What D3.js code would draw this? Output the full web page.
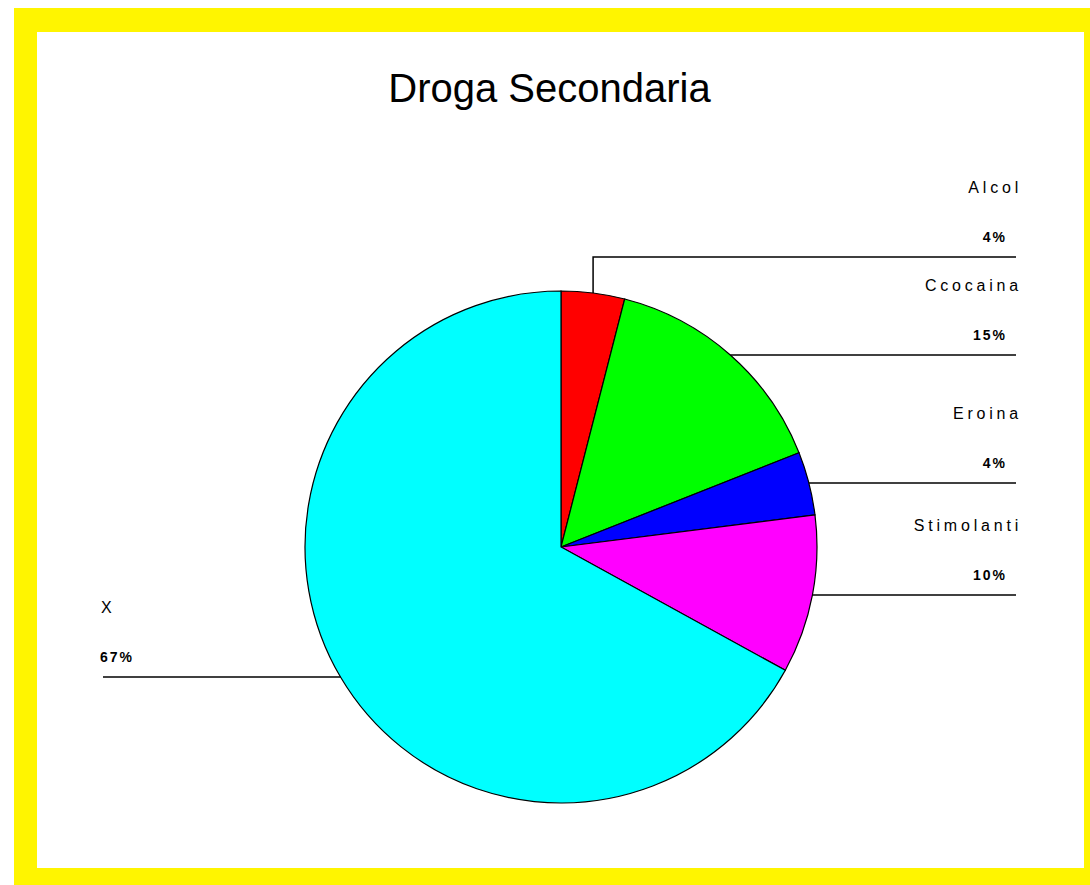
<!DOCTYPE html>
<html>
<head>
<meta charset="utf-8">
<script src="https://cdn.jsdelivr.net/npm/d3@7"></script>
<style>
  html, body { margin: 0; padding: 0; background: #ffffff; }
  svg { display: block; }
</style>
</head>
<body>
<svg id="chart" width="1090" height="885"></svg>
<script>
// ---- data ----
const categories = ["Alcol", "Ccocaina", "Eroina", "Stimolanti", "X"];
const values = [4, 15, 4, 10, 67];
const percentLabels = ["4%", "15%", "4%", "10%", "67%"];
const colors = ["#ff0000", "#00ff00", "#0000ff", "#ff00ff", "#00ffff"];
const title = "Droga Secondaria";

// ---- layout ----
const W = 1090, H = 885;
const cx = 561, cy = 547, R = 256;
const rightLabelX = 1016;   // end of right leader lines
const leftLabelX = 103;     // end of left leader lines
const elbowUp = { "Alcol": 36 }; // leader elbows for crowded labels

const svg = d3.select("#chart");

// frame
svg.append("rect").attr("x", 0).attr("y", 0).attr("width", W).attr("height", H).attr("fill", "#ffffff");
svg.append("rect").attr("x", 14).attr("y", 8).attr("width", W - 14).attr("height", H - 8).attr("fill", "#fff500");
svg.append("rect").attr("x", 37).attr("y", 32).attr("width", 1084 - 37).attr("height", 868 - 32).attr("fill", "#ffffff");

// title
svg.append("text")
  .attr("x", 549.5).attr("y", 102)
  .attr("text-anchor", "middle")
  .attr("font-family", "Liberation Sans, Arial, sans-serif")
  .attr("font-size", 40)
  .attr("fill", "#000")
  .text(title);

// pie
const data = categories.map((c, i) => ({ name: c, value: values[i], pct: percentLabels[i], color: colors[i] }));
const pie = d3.pie().value(d => d.value).sort(null).startAngle(0).endAngle(2 * Math.PI);
const arcs = pie(data);
const arc = d3.arc().innerRadius(0).outerRadius(R);

const g = svg.append("g").attr("transform", `translate(${cx},${cy})`);
g.selectAll("path.slice")
  .data(arcs)
  .join("path")
  .attr("class", "slice")
  .attr("d", arc)
  .attr("fill", d => d.data.color)
  .attr("stroke", "#000")
  .attr("stroke-width", 1.2);

// leader lines and labels
const labelFont = "Liberation Sans, Arial, sans-serif";
arcs.forEach(a => {
  const mid = (a.startAngle + a.endAngle) / 2;
  const ex = cx + R * Math.sin(mid);
  const ey = cy - R * Math.cos(mid);
  const right = Math.sin(mid) >= 0;
  const up = elbowUp[a.data.name] || 0;
  const ly = Math.round(ey - up);
  let pts;
  if (up) {
    pts = [[ex, ey], [ex, ly], [right ? rightLabelX : leftLabelX, ly]];
  } else {
    pts = [[ex, ly], [right ? rightLabelX : leftLabelX, ly]];
  }
  svg.append("path")
    .attr("d", d3.line()(pts))
    .attr("fill", "none")
    .attr("stroke", "#000")
    .attr("stroke-width", 1.5);

  if (right) {
    svg.append("text")
      .attr("x", 1022).attr("y", ly - 64)
      .attr("text-anchor", "end")
      .attr("font-family", labelFont)
      .attr("font-size", 16)
      .attr("letter-spacing", 3.8)
      .attr("fill", "#000")
      .text(a.data.name);
    svg.append("text")
      .attr("x", 1007).attr("y", ly - 15)
      .attr("text-anchor", "end")
      .attr("font-family", labelFont)
      .attr("font-size", 14)
      .attr("font-weight", "bold")
      .attr("letter-spacing", 2)
      .attr("fill", "#000")
      .text(a.data.pct);
  } else {
    svg.append("text")
      .attr("x", 101).attr("y", ly - 64)
      .attr("text-anchor", "start")
      .attr("font-family", labelFont)
      .attr("font-size", 16)
      .attr("letter-spacing", 3.8)
      .attr("fill", "#000")
      .text(a.data.name);
    svg.append("text")
      .attr("x", 100).attr("y", ly - 15)
      .attr("text-anchor", "start")
      .attr("font-family", labelFont)
      .attr("font-size", 14)
      .attr("font-weight", "bold")
      .attr("letter-spacing", 2)
      .attr("fill", "#000")
      .text(a.data.pct);
  }
});
</script>
</body>
</html>
